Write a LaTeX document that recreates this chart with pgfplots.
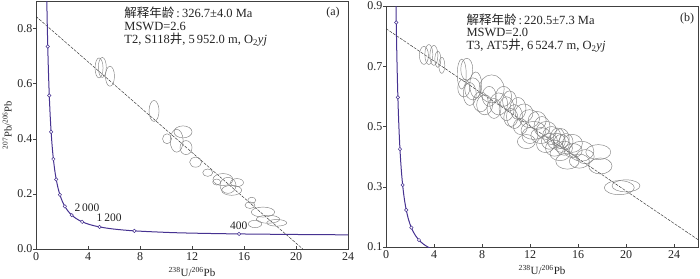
\documentclass[border=0pt]{standalone}
\usepackage{fontspec}
\setmainfont{Liberation Serif}
\newfontfamily\cjk{Noto Sans CJK SC}
\usepackage{pgfplots}
\pgfplotsset{compat=1.18}
\definecolor{conc}{RGB}{70,50,145}
\definecolor{ellc}{RGB}{130,130,130}
\definecolor{txt}{RGB}{35,35,35}
\pgfdeclareplotmark{blank}{}
\tikzset{annot/.style={anchor=west, font=\fontsize{12.5}{14}\selectfont, text=txt}}
\pgfplotsset{
  ellset/.style={
    scatter, only marks, mark=blank,
    visualization depends on={value \thisrow{a}\as\ellA},
    visualization depends on={value \thisrow{b}\as\ellB},
    visualization depends on={value \thisrow{r}\as\ellR},
    scatter/@pre marker code/.code={\draw[ellc, line width=0.45pt, rotate=\ellR] (0pt,0pt) ellipse [x radius=\ellA pt, y radius=\ellB pt];},
    scatter/@post marker code/.code={},
  },
  common/.style={
    scale only axis, width=312pt, anchor=south west,
    axis line style={line width=0.6pt, black!75},
    tick style={black!75, line width=0.5pt},
    tick align=inside, tick pos=left, major tick length=3pt,
    every y tick/.append style={xshift=-3pt},
    ticklabel style={font=\fontsize{12}{14}\selectfont, text=txt},
    label style={font=\fontsize{11}{13}\selectfont, text=txt},
    xtick={0,4,8,12,16,20,24},
    xticklabels={0,4,8,12,16,20,24},
    xlabel={\textsuperscript{238}U/\textsuperscript{206}Pb},
  },
  concline/.style={conc, line width=1.0pt, smooth},
  concmark/.style={only marks, mark=*, mark size=1.7pt, mark options={draw=conc, fill=white, line width=0.5pt}},
  disc/.style={black!80, line width=0.45pt, dash pattern=on 3pt off 1.2pt},
}
\begin{document}
\begin{tikzpicture}
\path[use as bounding box] (0,0) rectangle (700pt,278pt);
% ---------- (a) ----------
\begin{axis}[common, at={(36pt,29pt)}, height=248pt,
  xmin=0, xmax=24, ymin=0, ymax=0.9,
  ytick={0,0.2,0.4,0.6,0.8}, yticklabels={0.0,0.2,0.4,0.6,0.8},
  ylabel={\textsuperscript{207}Pb/\textsuperscript{206}Pb},
  ylabel style={at={(axis description cs:-0.092,0.5)}, anchor=center, font=\fontsize{10.5}{12}\selectfont},
]
\addplot[ellset] table {
x y a b r
4.85 0.657 4 10 -15
5.10 0.659 4 10 -15
5.69 0.627 4.5 10 -15
9.08 0.501 5 10.5 -20
10.82 0.393 6.5 11.5 -30
11.31 0.425 9 6 25
10.08 0.400 4.5 5 0
11.54 0.368 6 7 0
12.28 0.315 6 5 -10
13.21 0.277 5 3.7 0
14.38 0.252 10 6 0
14.77 0.231 8 8 0
15.46 0.241 6.5 4 0
15.05 0.213 10 5 0
13.90 0.243 4 3 0
16.46 0.159 5 3.3 0
16.60 0.177 4 3 0
17.46 0.134 11.7 5 0
17.85 0.108 11.7 4 0
18.52 0.095 10 3.3 0
16.85 0.091 6.7 3.7 0
};
\addplot[disc] coordinates {(0,0.844) (20.52,0)};
\addplot[concline] coordinates {
(0.8063,0.9737) (0.8532,0.8453) (0.9045,0.7348) (0.9604,0.6394) (1.0215,0.5571)
(1.0887,0.4863) (1.1629,0.4250) (1.2452,0.3721) (1.3369,0.3264) (1.4396,0.2867)
(1.5556,0.2524) (1.6874,0.2227) (1.8383,0.1968) (2.0129,0.1744) (2.2170,0.1548)
(2.4586,0.1378) (2.7490,0.1230) (3.1044,0.1100) (3.5496,0.0987) (4.1225,0.0888)
(4.8879,0.0801) (5.9589,0.0725) (7.5680,0.0658) (10.252,0.0599) (12.399,0.0572)
(15.621,0.0547) (20.992,0.0523) (25.289,0.0512) (26.363,0.0510)};
\addplot[concmark] coordinates {
(0.9045,0.7348) (1.0215,0.5571) (1.1629,0.4250) (1.3369,0.3264) (1.5556,0.2524)
(1.8383,0.1968) (2.2170,0.1548) (2.7490,0.1230) (3.5496,0.0987) (4.8879,0.0801)
(7.5680,0.0658) (15.621,0.0547)};
\node[font=\fontsize{11.5}{13}\selectfont, text=txt] at (axis cs:3.92,0.151) {2\,000};
\node[font=\fontsize{11.5}{13}\selectfont, text=txt] at (axis cs:5.62,0.112) {1\,200};
\node[font=\fontsize{11.5}{13}\selectfont, text=txt] at (axis cs:15.6,0.083) {400};
\node[annot] at (rel axis cs:0.272,0.952) {{\cjk 解释年龄}\,:\,326.7±4.0 Ma};
\node[annot] at (rel axis cs:0.272,0.897) {MSWD=2.6};
\node[annot] at (rel axis cs:0.272,0.843) {T2, S118{\cjk 井}, 5\,952.0 m, O\textsubscript{2}\textit{yj}};
\node[font=\fontsize{12}{14}\selectfont, text=txt] at (rel axis cs:0.952,0.953) {(a)};
\end{axis}
% ---------- (b) ----------
\begin{axis}[common, at={(386pt,31pt)}, height=241pt,
  xmin=0, xmax=26, ymin=0.1, ymax=0.9,
  ytick={0.1,0.3,0.5,0.7,0.9}, yticklabels={0.1,0.3,0.5,0.7,0.9},
]
\addplot[ellset] table {
x y a b r
3.16 0.736 4.5 9 -10
3.57 0.739 4 10 -5
3.99 0.736 4 10 -5
4.32 0.723 3 8 0
4.65 0.703 3 8 0
6.31 0.674 4.5 15 -5
6.73 0.690 6 11 -5
7.23 0.625 8 11 -10
6.98 0.608 6.5 11.5 0
6.48 0.628 6 9 0
7.48 0.638 6 13 0
8.80 0.625 12.5 14 0
8.22 0.572 8 10 0
7.89 0.582 7.5 10 0
9.39 0.575 9 11 0
10.05 0.559 7.5 12 0
10.71 0.533 8 12 0
11.96 0.526 10 9 0
12.29 0.487 12.5 9 0
13.37 0.487 10 9 0
13.62 0.451 8 8 0
14.20 0.451 9 8 0
14.62 0.444 8 9 0
14.04 0.428 9 8 0
14.87 0.428 8 7 0
15.53 0.444 10 9 0
16.28 0.418 12.5 10 0
17.69 0.415 12.5 7.5 10
15.12 0.385 11.7 8 15
16.11 0.385 10 7 0
19.44 0.297 15 7 20
20.00 0.303 14 6 15
17.86 0.369 11.7 8 10
8.60 0.600 7 10 0
9.80 0.600 8 10 0
10.30 0.585 7 10 0
11.00 0.560 8 11 0
11.50 0.545 9 9 0
12.60 0.520 9 9 0
13.00 0.500 8 10 0
12.90 0.470 10 8 0
13.80 0.470 9 9 0
14.30 0.465 7 9 0
14.60 0.460 8 10 0
13.30 0.440 9 8 0
15.00 0.450 7 8 0
15.60 0.420 9 7 0
14.50 0.410 10 7 0
10.40 0.530 7 9 0
9.00 0.560 7 10 0
11.20 0.500 7 8 0
12.00 0.470 8 8 0
16.60 0.400 9 7 0
11.70 0.450 9 7 0
};
\addplot[disc] coordinates {(0,0.825) (26,0.1245)};
\addplot[concline] coordinates {
(0.8063,0.9737) (0.8532,0.8453) (0.9045,0.7348) (0.9604,0.6394) (1.0215,0.5571)
(1.0887,0.4863) (1.1629,0.4250) (1.2452,0.3721) (1.3369,0.3264) (1.4396,0.2867)
(1.5556,0.2524) (1.6874,0.2227) (1.8383,0.1968) (2.0129,0.1744) (2.2170,0.1548)
(2.4586,0.1378) (2.7490,0.1230) (3.1044,0.1100) (3.5496,0.0987) (4.1225,0.0888)};
\addplot[concmark] coordinates {
(0.8532,0.8453) (0.9902,0.5967) (1.1629,0.4250) (1.3868,0.3058) (1.6874,0.2227)
(2.1109,0.1643) (2.7490,0.1230)};
\node[annot] at (rel axis cs:0.247,0.945) {{\cjk 解释年龄}\,:\,220.5±7.3 Ma};
\node[annot] at (rel axis cs:0.247,0.890) {MSWD=2.0};
\node[annot] at (rel axis cs:0.247,0.835) {T3, AT5{\cjk 井}, 6\,524.7 m, O\textsubscript{2}\textit{yj}};
\node[font=\fontsize{12}{14}\selectfont, text=txt] at (rel axis cs:0.965,0.947) {(b)};
\end{axis}
\end{tikzpicture}
\end{document}
